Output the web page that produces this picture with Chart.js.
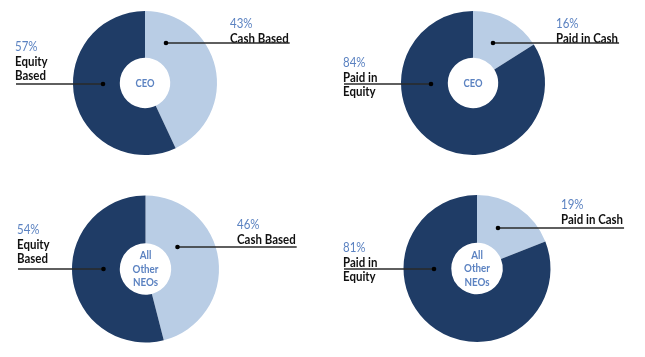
<!DOCTYPE html>
<html><head><meta charset="utf-8">
<script src="https://cdn.jsdelivr.net/npm/chart.js@4.4.1/dist/chart.umd.min.js"></script>
<style>
html,body{margin:0;padding:0;background:#fff;}
#wrap{position:relative;width:645px;height:357px;}
#wrap canvas{position:absolute;left:0;top:0;}
</style></head>
<body><div id="wrap">
<canvas id="c0" width="645" height="357"></canvas>
<canvas id="c1" width="645" height="357"></canvas>
<canvas id="c2" width="645" height="357"></canvas>
<canvas id="c3" width="645" height="357"></canvas>
</div>
<script>
// ---- data ----
const centerTitles = [['CEO'], ['CEO'], ['All', 'Other', 'NEOs'], ['All', 'Other', 'NEOs']];
const mixLabels = [['Cash Based'], ['Equity', 'Based']];
const payLabels = [['Paid in Cash'], ['Paid in', 'Equity']];
const ceoMix = [43, 57];
const ceoPay = [16, 84];
const neoMix = [46, 54];
const neoPay = [19, 81];

const panelData = [ceoMix, ceoPay, neoMix, neoPay];
const panelLabels = [mixLabels, payLabels, mixLabels, payLabels];

// ---- layout / style ----
const DARK = '#1f3c66', LIGHT = '#b9cde5', PCT = '#5b82c1', INK = '#111111';
const geom = [
  {cx:145, cy:83, r:72},
  {cx:473, cy:83, r:72},
  {cx:145.5, cy:269, r:73.5},
  {cx:477, cy:268.5, r:73.5}
];
// annotation offsets relative to donut center: text x, pct y, line y, dot x
const notes = [
  [{tx:85, py:-59, ly:-40, dx:21, side:'r'}, {tx:-130, py:-36, ly:1, dx:-42, side:'l'}],
  [{tx:83, py:-59, ly:-40, dx:20, side:'r'}, {tx:-130, py:-20, ly:1, dx:-42, side:'l'}],
  [{tx:91.5, py:-44, ly:-22, dx:32, side:'r'}, {tx:-128.5, py:-39, ly:0, dx:-42, side:'l'}],
  [{tx:84, py:-63.5, ly:-40.5, dx:21, side:'r'}, {tx:-134, py:-20.5, ly:0.5, dx:-43, side:'l'}]
];
const FONT = 'Lato, "Open Sans", sans-serif';
const SX = 0.85;

function sText(ctx, t, x, y) {
  ctx.save();
  ctx.translate(x, y);
  ctx.scale(SX, 1);
  ctx.fillText(t, 0, 0);
  ctx.restore();
  return ctx.measureText(t).width * SX;
}

const notePlugin = {
  id: 'notes',
  afterDatasetsDraw(chart, args, opts) {
    const ctx = chart.ctx;
    const arc = chart.getDatasetMeta(0).data[0];
    const cx = arc.x, cy = arc.y;
    const ds = chart.data.datasets[0].data;
    const labels = chart.data.labels;
    ctx.save();
    // center text
    ctx.fillStyle = PCT;
    ctx.textAlign = 'center';
    ctx.textBaseline = 'middle';
    const ct = opts.center;
    ctx.font = (ct.length > 1 ? 'bold 11.5px ' : 'bold 11px ') + FONT;
    const lh = 13.5;
    ct.forEach((t, i) => {
      ctx.save(); ctx.translate(cx, cy + (i - (ct.length - 1) / 2) * lh); ctx.scale(SX, 1);
      ctx.fillText(t, 0, 0); ctx.restore();
    });
    ctx.textAlign = 'left';
    // slice notes
    opts.notes.forEach((n, i) => {
      const x = cx + n.tx;
      const lines = labels[i];
      ctx.fillStyle = PCT;
      ctx.font = '13.5px ' + FONT;
      sText(ctx, ds[i] + '%', x, cy + n.py);
      ctx.fillStyle = INK;
      ctx.font = 'bold 13.5px ' + FONT;
      let w = 0;
      lines.forEach((t, k) => {
        w = Math.max(w, sText(ctx, t, x, cy + n.py + 14.5 * (k + 1)));
      });
      const ly = cy + n.ly, dxp = cx + n.dx;
      ctx.strokeStyle = '#2a2a2a';
      ctx.lineWidth = 1.5;
      ctx.beginPath();
      if (n.side === 'r') { ctx.moveTo(dxp, ly); ctx.lineTo(x + w + 1, ly); }
      else { ctx.moveTo(x + 1, ly); ctx.lineTo(dxp, ly); }
      ctx.stroke();
      ctx.fillStyle = '#000';
      ctx.beginPath();
      ctx.arc(dxp, ly, 2.3, 0, Math.PI * 2);
      ctx.fill();
    });
    ctx.restore();
  }
};

panelData.forEach((vals, i) => {
  const g = geom[i];
  new Chart(document.getElementById('c' + i), {
    type: 'doughnut',
    data: {
      labels: panelLabels[i],
      datasets: [{ data: vals, backgroundColor: [LIGHT, DARK], borderWidth: 0, hoverOffset: 0 }]
    },
    options: {
      responsive: false,
      animation: false,
      cutout: '35%',
      layout: { padding: { left: g.cx - g.r, right: 645 - g.cx - g.r, top: g.cy - g.r, bottom: 357 - g.cy - g.r } },
      plugins: {
        legend: { display: false },
        tooltip: { enabled: false },
        notes: { center: centerTitles[i], notes: notes[i] }
      },
      events: []
    },
    plugins: [notePlugin]
  });
});
</script>
</body></html>
